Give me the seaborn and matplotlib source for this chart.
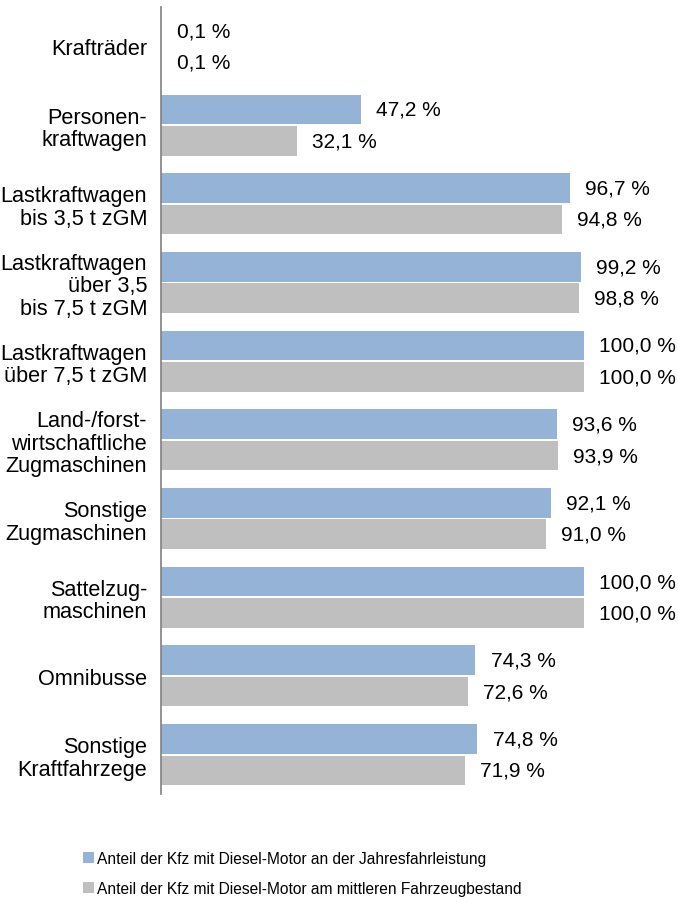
import matplotlib
matplotlib.use("Agg")
import matplotlib.pyplot as plt
import seaborn as sns
import pandas as pd
from matplotlib.patches import Patch

categories = [
    "Krafträder",
    "Personen-\nkraftwagen",
    "Lastkraftwagen\nbis 3,5 t zGM",
    "Lastkraftwagen\nüber 3,5\nbis 7,5 t zGM",
    "Lastkraftwagen\nüber 7,5 t zGM",
    "Land-/forst-\nwirtschaftliche\nZugmaschinen",
    "Sonstige\nZugmaschinen",
    "Sattelzug-\nmaschinen",
    "Omnibusse",
    "Sonstige\nKraftfahrzege",
]
jahresfahrleistung = [0.1, 47.2, 96.7, 99.2, 100.0, 93.6, 92.1, 100.0, 74.3, 74.8]
fahrzeugbestand = [0.1, 32.1, 94.8, 98.8, 100.0, 93.9, 91.0, 100.0, 72.6, 71.9]
series_names = [
    "Anteil der Kfz mit Diesel-Motor an der Jahresfahrleistung",
    "Anteil der Kfz mit Diesel-Motor am mittleren Fahrzeugbestand",
]
colors = ["#95B3D7", "#BFBFBF"]

df = pd.DataFrame({
    "Kategorie": categories * 2,
    "Wert": jahresfahrleistung + fahrzeugbestand,
    "Serie": [series_names[0]] * len(categories) + [series_names[1]] * len(categories),
})

sns.set_style("white")
plt.rcParams["font.family"] = ["Liberation Sans", "DejaVu Sans"]
plt.rcParams["text.color"] = "black"
plt.rcParams["ytick.color"] = "black"

fig = plt.figure(figsize=(6.78, 9.03), dpi=100)
ax = fig.add_axes([161 / 678, 1 - 795 / 903, (584 - 161) / 678, 787 / 903])

sns.barplot(data=df, y="Kategorie", x="Wert", hue="Serie", orient="h",
            palette=colors, saturation=1, ax=ax, width=0.8, gap=0.06,
            edgecolor="none", linewidth=0, legend=False)

ax.set_xlim(0, 100)
ax.set_ylim(len(categories) - 0.5, -0.5)
ax.set_xlabel("")
ax.set_ylabel("")
ax.set_xticks([])
for s in ["top", "right", "bottom"]:
    ax.spines[s].set_visible(False)
ax.spines["left"].set_color("#808080")
ax.spines["left"].set_linewidth(1.2)
ax.tick_params(axis="y", length=0, pad=10, labelsize=15.6, labelcolor="black")
for lbl in ax.get_yticklabels():
    lbl.set_multialignment("right")
    lbl.set_linespacing(1.1)

for container in ax.containers:
    labels = [f"{v:.1f} %".replace(".", ",") for v in container.datavalues]
    ax.bar_label(container, labels=labels, padding=11, fontsize=15,
                 color="black", clip_on=False)

handles = [Patch(facecolor=c, edgecolor="none") for c in colors]
fig.legend(handles, series_names, loc="upper left",
           bbox_to_anchor=(77 / 678, 1 - 846 / 903), frameon=False,
           fontsize=11.2, handlelength=0.7, handleheight=0.7,
           handletextpad=0.2, labelspacing=0.95, borderaxespad=0)

fig.savefig("out.png", dpi=100)
